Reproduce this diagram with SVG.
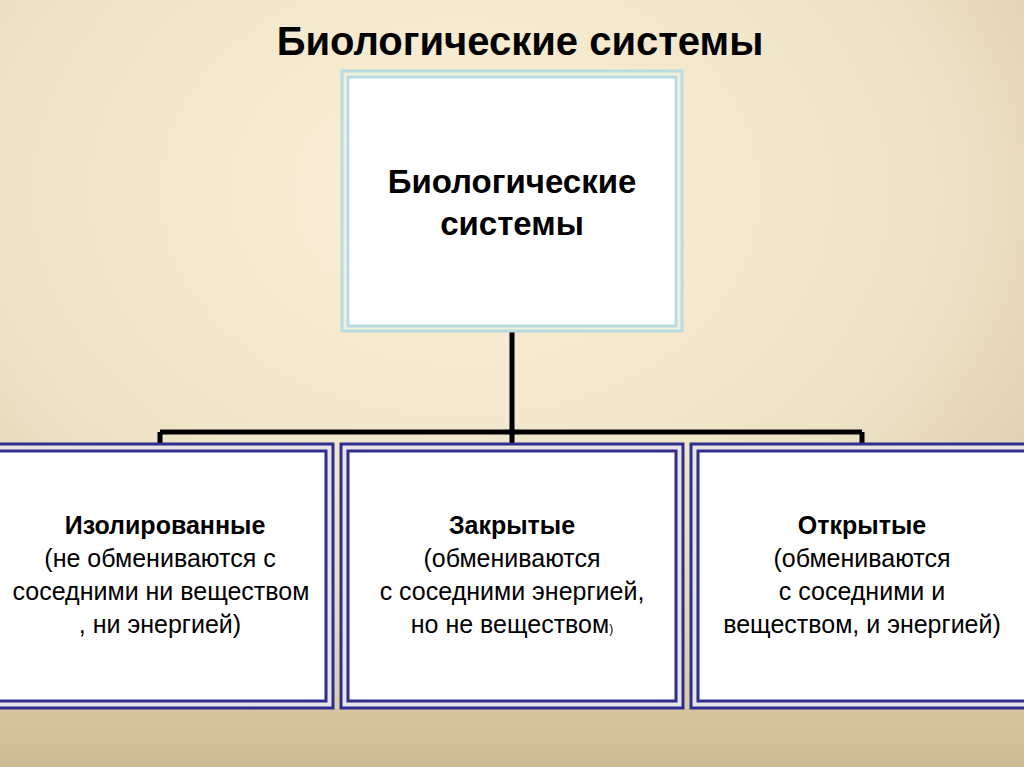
<svg xmlns="http://www.w3.org/2000/svg" width="1024" height="767" viewBox="0 0 1024 767">
<defs>
<radialGradient id="bg" cx="0.45" cy="0.25" r="0.8">
<stop offset="0" stop-color="#fbf1d8"/>
<stop offset="0.6" stop-color="#eee2c6"/>
<stop offset="1" stop-color="#d2c19c"/>
</radialGradient>
<linearGradient id="bot" x1="0" y1="0" x2="0" y2="1">
<stop offset="0" stop-color="#d6c6a2"/>
<stop offset="1" stop-color="#cdbb94"/>
</linearGradient>
</defs>
<style>
.t{font-family:"Liberation Sans",Arial,sans-serif;fill:#000;text-anchor:middle}
.b{font-weight:bold}
.s{font-size:25px}
.outerB{fill:#e8e4e8;stroke:#2e2e8c;stroke-width:3}
.innerB{fill:#fff;stroke:#2e2e8c;stroke-width:3}
.outerT{fill:#f3efe0;stroke:#b8dde0;stroke-width:3}
.innerT{fill:#fff;stroke:#b8dde0;stroke-width:3}
.c{stroke:#000;stroke-width:5;fill:none}
</style>
<rect width="1024" height="767" fill="url(#bg)"/>
<rect y="708" width="1024" height="59" fill="url(#bot)"/>
<text class="t b" x="520" y="55" font-size="40">Биологические системы</text>
<g id="connectors">
<path class="c" d="M512 326V448M160 432H862M160 432V447M862 432V447"/>
</g>
<g id="top">
<rect class="outerT" x="342" y="71" width="340" height="260"/>
<rect class="innerT" x="348" y="77" width="328" height="249"/>
<text class="t b" x="512" y="193" font-size="33">Биологические</text>
<text class="t b" x="512" y="235" font-size="33">системы</text>
</g>
<g id="isolated">
<rect class="outerB" x="-5" y="444" width="338" height="264"/>
<rect class="innerB" x="-5" y="451" width="331" height="250"/>
<text class="t b s" x="165" y="534">Изолированные</text>
<text class="t s" x="160" y="567">(не обмениваются с</text>
<text class="t s" x="161" y="600">соседними ни веществом</text>
<text class="t s" x="160" y="633">, ни энергией)</text>
</g>
<g id="closed">
<rect class="outerB" x="341" y="444" width="342" height="264"/>
<rect class="innerB" x="348" y="451" width="328" height="250"/>
<text class="t b s" x="512" y="534">Закрытые</text>
<text class="t s" x="512" y="567">(обмениваются</text>
<text class="t s" x="512" y="600">с соседними энергией,</text>
<text class="t s" x="512" y="633">но не веществом<tspan font-size="12">)</tspan></text>
</g>
<g id="open">
<rect class="outerB" x="691" y="444" width="340" height="264"/>
<rect class="innerB" x="698" y="451" width="330" height="250"/>
<text class="t b s" x="862" y="534">Открытые</text>
<text class="t s" x="862" y="567">(обмениваются</text>
<text class="t s" x="862" y="600">с соседними и</text>
<text class="t s" x="862" y="633">веществом, и энергией)</text>
</g>
</svg>
